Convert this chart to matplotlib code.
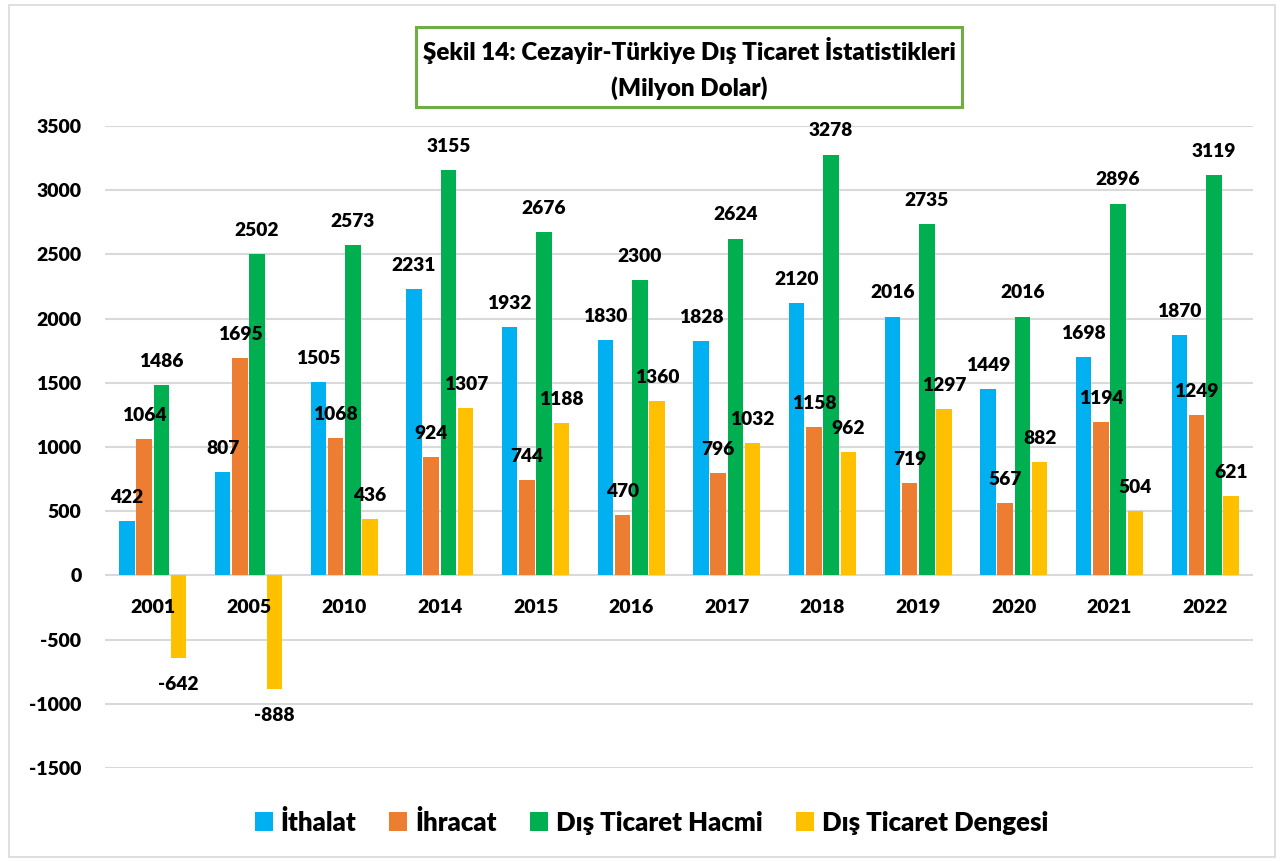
import numpy as np
import matplotlib.pyplot as plt
from matplotlib.patches import Rectangle, Patch

plt.rcParams['font.family'] = ['Lato', 'DejaVu Sans']
W = 'heavy'
plt.rcParams['font.weight'] = W

years = ['2001', '2005', '2010', '2014', '2015', '2016', '2017', '2018', '2019', '2020', '2021', '2022']
ithalat = [422, 807, 1505, 2231, 1932, 1830, 1828, 2120, 2016, 1449, 1698, 1870]
ihracat = [1064, 1695, 1068, 924, 744, 470, 796, 1158, 719, 567, 1194, 1249]
hacim = [1486, 2502, 2573, 3155, 2676, 2300, 2624, 3278, 2735, 2016, 2896, 3119]
denge = [-642, -888, 436, 1307, 1188, 1360, 1032, 962, 1297, 882, 504, 621]

series_names = ['İthalat', 'İhracat', 'Dış Ticaret Hacmi', 'Dış Ticaret Dengesi']
colors = ['#00B0F0', '#ED7D31', '#00B050', '#FFC000']
yticks = [-1500, -1000, -500, 0, 500, 1000, 1500, 2000, 2500, 3000, 3500]

fig = plt.figure(figsize=(12.82, 8.61), dpi=100)
ax = fig.add_axes([0.0819, 0.108, 0.8955, 0.7456])

x = np.arange(len(years))
step = 0.18
width = 0.163
for i, (vals, col) in enumerate(zip([ithalat, ihracat, hacim, denge], colors)):
    pos = x + (i - 1.5) * step
    ax.bar(pos, vals, width=width, color=col, zorder=3)
    for px, v in zip(pos, vals):
        off = 17 if v >= 0 else -19
        ax.annotate(str(v), (px, v), xytext=(0, off), textcoords='offset points',
                    ha='center', va='center', fontsize=13.8, fontweight=W, zorder=5)

ax.set_xlim(-0.5, len(years) - 0.5)
ax.set_ylim(-1500, 3500)
ax.set_yticks(yticks)
ax.set_yticklabels([str(t) for t in yticks], fontsize=14, fontweight=W)
ax.tick_params(axis='y', length=0, pad=17)
ax.set_xticks([])
ax.grid(axis='y', color='#D9D9D9', linewidth=1.5, zorder=0)
for s in ax.spines.values():
    s.set_visible(False)

# year labels just under the zero line
for xi, yr in zip(x, years):
    ax.text(xi, -250, yr, ha='center', va='center', fontsize=14, fontweight=W)

# title box
fig.text(0.5375, 0.941, 'Şekil 14: Cezayir-Türkiye Dış Ticaret İstatistikleri',
         ha='center', va='center', fontsize=17.4, fontweight=W)
fig.text(0.5375, 0.898, '(Milyon Dolar)', ha='center', va='center', fontsize=17.4, fontweight=W)
fig.add_artist(Rectangle((416 / 1282, 1 - 107 / 861), (962 - 416) / 1282, 80 / 861,
                         transform=fig.transFigure, fill=False, edgecolor='#70AD47', linewidth=2.2))

# outer frame
fig.add_artist(Rectangle((9 / 1282, 4 / 861), 1266 / 1282, 852 / 861,
                         transform=fig.transFigure, fill=False, edgecolor='#D9D9D9', linewidth=1.2))

handles = [Patch(facecolor=c) for c in colors]
fig.legend(handles, series_names, loc='center', bbox_to_anchor=(0.508, 0.045), ncol=4,
           frameon=False, handlelength=0.7, handleheight=0.75,
           handletextpad=0.3, columnspacing=1.3, prop={'weight': W, 'size': 18.5})

fig.savefig('out.png', dpi=100)
